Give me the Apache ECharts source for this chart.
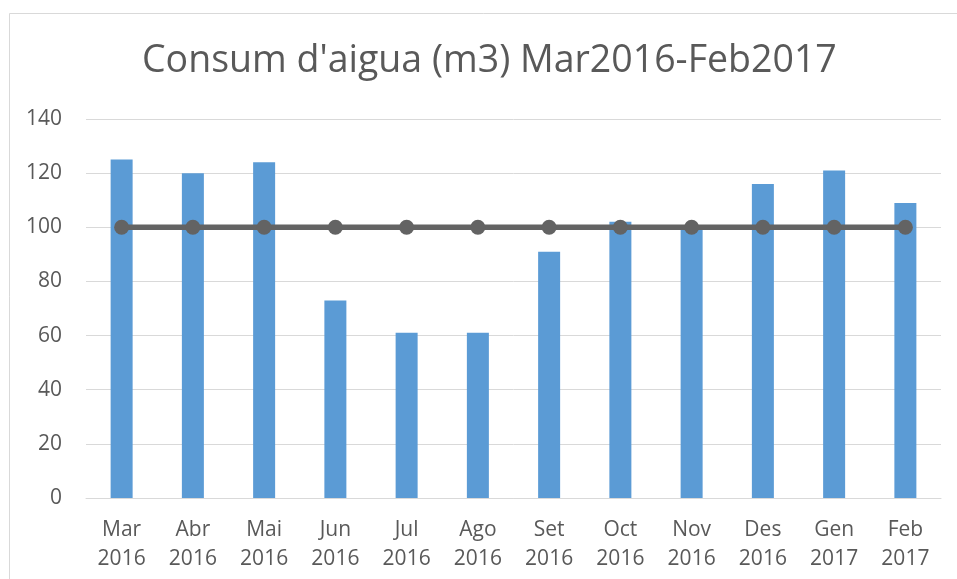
<!DOCTYPE html>
<html>
<head>
<meta charset="utf-8">
<script src="https://cdn.jsdelivr.net/npm/echarts@6/dist/echarts.min.js"></script>
<style>
  html, body { margin: 0; padding: 0; background: #ffffff; }
  #chart { width: 957px; height: 579px; }
</style>
</head>
<body>
<div id="chart"></div>
<script>
var titleText = "Consum d'aigua (m3) Mar2016-Feb2017";
var months = ["Mar", "Abr", "Mai", "Jun", "Jul", "Ago", "Set", "Oct", "Nov", "Des", "Gen", "Feb"];
var years = ["2016", "2016", "2016", "2016", "2016", "2016", "2016", "2016", "2016", "2016", "2017", "2017"];
var consumption = [125, 120, 124, 73, 61, 61, 91, 102, 100, 116, 121, 109];
var reference = [100, 100, 100, 100, 100, 100, 100, 100, 100, 100, 100, 100];
var yTicks = [0, 20, 40, 60, 80, 100, 120, 140];

var categories = months.map(function (m, i) { return m + "\n" + years[i]; });
var FONT = "'Open Sans', 'Liberation Sans', sans-serif";

var chart = echarts.init(document.getElementById('chart'), null, { renderer: 'canvas' });
chart.setOption({
  animation: false,
  backgroundColor: '#ffffff',
  graphic: [{
    type: 'rect',
    silent: true,
    shape: { x: 9.5, y: 13.5, width: 1200, height: 1200 },
    style: { fill: 'none', stroke: '#d9d9d9', lineWidth: 1 }
  }],
  title: {
    text: titleText,
    left: 142,
    top: 42,
    padding: 0,
    textStyle: { fontFamily: FONT, fontSize: 37.5, fontWeight: 'normal', color: '#595959' }
  },
  grid: { left: 86, right: 16, top: 119, bottom: 81, containLabel: false },
  xAxis: {
    type: 'category',
    data: categories,
    axisLine: { show: true, lineStyle: { color: '#d9d9d9', width: 1 } },
    axisTick: { show: false },
    axisLabel: {
      margin: 18,
      interval: 0,
      fontFamily: FONT,
      fontSize: 21,
      lineHeight: 29,
      color: '#595959'
    }
  },
  yAxis: {
    type: 'value',
    min: yTicks[0],
    max: yTicks[yTicks.length - 1],
    interval: 20,
    axisLine: { show: false },
    axisTick: { show: false },
    splitLine: { lineStyle: { color: '#d9d9d9', width: 1 } },
    axisLabel: {
      margin: 24,
      fontFamily: FONT,
      fontSize: 21,
      color: '#595959'
    }
  },
  series: [
    {
      type: 'bar',
      data: consumption,
      barWidth: 22,
      itemStyle: { color: '#5b9bd5' },
      z: 2
    },
    {
      type: 'line',
      data: reference,
      symbol: 'circle',
      symbolSize: 15,
      lineStyle: { color: '#636363', width: 5.5 },
      itemStyle: { color: '#636363' },
      z: 3
    }
  ]
});
</script>
</body>
</html>
